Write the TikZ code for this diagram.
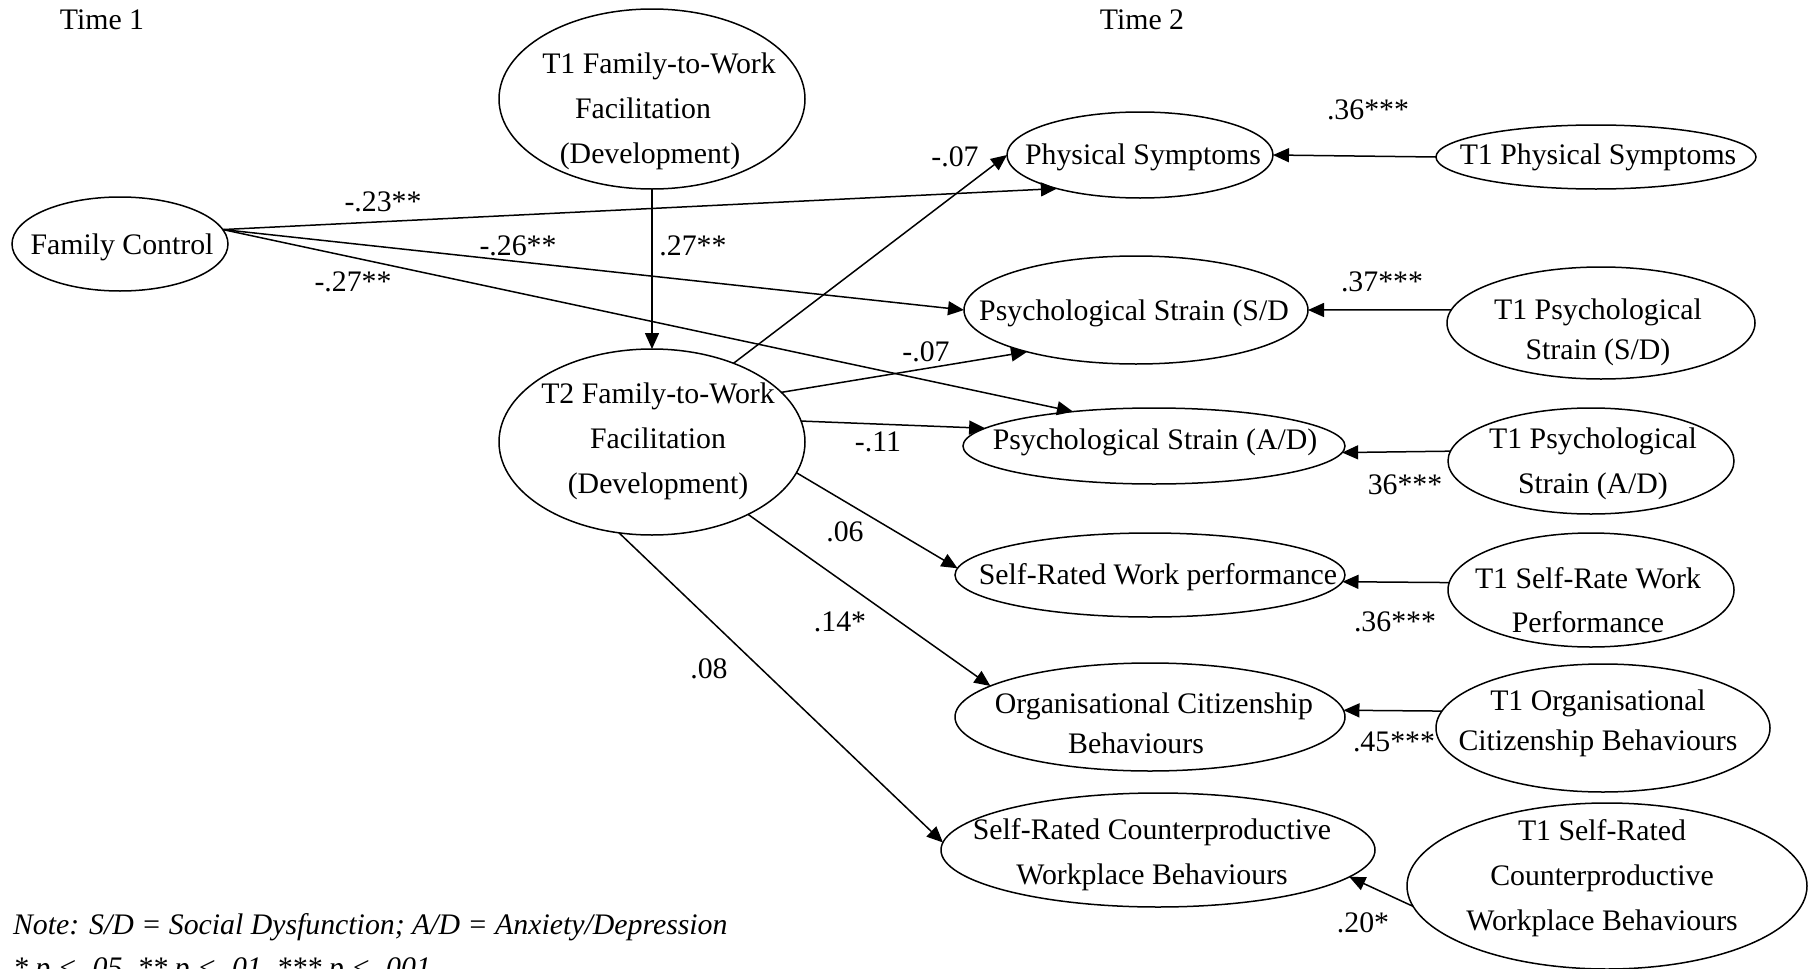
\documentclass[tikz,border=0pt]{standalone}
\usepackage{fontspec}
\setmainfont{Liberation Serif}
\usetikzlibrary{arrows.meta,shapes.geometric}
\begin{document}
\begin{tikzpicture}[x=1pt,y=-1pt,
  every node/.style={inner sep=0pt, outer sep=0pt},
  lat/.style={draw, ellipse, line width=1.5pt},
  lbl/.style={font=\fontsize{29.8}{44}\selectfont, align=center},
  lbltight/.style={font=\fontsize{29.8}{40}\selectfont, align=center},
  lblwide/.style={font=\fontsize{29.8}{45}\selectfont, align=center},
  coef/.style={font=\fontsize{29.8}{36}\selectfont},
  conn/.style={line width=1.5pt, -{Triangle[length=16pt,width=14pt]}}]
\useasboundingbox (0,0) rectangle (1816,969);

% headings
\node[coef] (time1) at (102,20) {Time 1};
\node[coef] (time2) at (1142,20) {Time 2};

% Time 1 predictors
\node[lat, minimum width=216, minimum height=94] (fc) at (120,244) {};
\node[lbl] (fc-t) at (122,247) {Family Control};

\node[lat, minimum width=306, minimum height=180] (t1ftw) at (652,99) {};
\node[lblwide] (t1ftw-t) at (650,111) {\kern18pt T1 Family-to-Work\\Facilitation\kern14pt\\(Development)};

\node[lat, minimum width=306, minimum height=186] (t2ftw) at (652,442) {};
\node[lblwide] (t2ftw-t) at (658,441) {T2 Family-to-Work\\Facilitation\\(Development)};

% Time 2 outcomes
\node[lat, minimum width=266, minimum height=86] (phys) at (1140,155) {};
\node[lbl] (phys-t) at (1143,157) {Physical Symptoms};

\node[lat, minimum width=344, minimum height=108] (pssd) at (1136,310) {};
\node[lbl] (pssd-t) at (1134,313) {Psychological Strain (S/D};

\node[lat, minimum width=382, minimum height=76] (psad) at (1154,446) {};
\node[lbl] (psad-t) at (1155,442) {Psychological Strain (A/D)};

\node[lat, minimum width=390, minimum height=84] (srwp) at (1150,575) {};
\node[lbl] (srwp-t) at (1158,577) {Self-Rated Work performance};

\node[lat, minimum width=390, minimum height=108] (ocb) at (1150,717) {};
\node[lbltight] (ocb-t) at (1154,723) {Organisational Citizenship\\Behaviours\kern36pt};

\node[lat, minimum width=434, minimum height=114] (srcwb) at (1158,850) {};
\node[lblwide] (srcwb-t) at (1152,855) {Self-Rated Counterproductive\\Workplace Behaviours};

% Time 1 controls
\node[lat, minimum width=320, minimum height=64] (t1phys) at (1596,157) {};
\node[lbl] (t1phys-t) at (1598,157) {T1 Physical Symptoms};

\node[lat, minimum width=308, minimum height=112] (t1pssd) at (1601,323) {};
\node[lbltight] (t1pssd-t) at (1598,332) {T1 Psychological\\Strain (S/D)};

\node[lat, minimum width=286, minimum height=106] (t1psad) at (1591,461) {};
\node[lblwide] (t1psad-t) at (1593,464) {T1 Psychological\\Strain (A/D)};

\node[lat, minimum width=286, minimum height=114] (t1srwp) at (1591,590) {};
\node[lbl] (t1srwp-t) at (1588,600) {T1 Self-Rate Work\\Performance};

\node[lat, minimum width=334, minimum height=128] (t1ocb) at (1603,728) {};
\node[lbltight] (t1ocb-t) at (1598,723) {T1 Organisational\\Citizenship Behaviours};

\node[lat, minimum width=400, minimum height=166] (t1srcwb) at (1607,886) {};
\node[lblwide] (t1srcwb-t) at (1602,878) {T1 Self-Rated\\Counterproductive\\Workplace Behaviours};

% paths from Family Control
\draw[conn] (fc.8) -- (phys.202);
\draw[conn] (fc.8) -- (pssd.west);
\draw[conn] (fc.8) -- (psad.157);
% stability of facilitation
\draw[conn] (t1ftw.south) -- (t2ftw.north);
% paths from T2 facilitation
\draw[conn] (t2ftw.44) -- (phys.west);
\draw[conn] (t2ftw.21) -- (pssd.201);
\draw[conn] (t2ftw.8) -- (psad.174);
\draw[conn] (t2ftw.-12) -- (srwp.178);
\draw[conn] (t2ftw.-37) -- (ocb.169);
\draw[conn] (t2ftw.-110) -- (srcwb.178);
% autoregressive paths
\draw[conn] (t1phys.west) -- (phys.east);
\draw[conn] (t1pssd.175) -- (pssd.east);
\draw[conn] (t1psad.176) -- (psad.358);
\draw[conn] (t1srwp.177) -- (srwp.358);
\draw[conn] (t1ocb.174) -- (ocb.2);
\draw[conn] (t1srcwb.186) -- (srcwb.352);

% path coefficients
\node[coef] (c1) at (383,202) {-.23**};
\node[coef] (c2) at (518,246) {-.26**};
\node[coef] (c3) at (353,282) {-.27**};
\node[coef] (c4) at (693,246) {.27**};
\node[coef] (c5) at (955,157) {-.07};
\node[coef] (c6) at (926,352) {-.07};
\node[coef] (c7) at (878,442) {-.11};
\node[coef] (c8) at (845,532) {.06};
\node[coef] (c9) at (840,622) {.14*};
\node[coef] (c10) at (709,669) {.08};
\node[coef] (c11) at (1368,110) {.36***};
\node[coef] (c12) at (1382,282) {.37***};
\node[coef] (c13) at (1405,485) {36***};
\node[coef] (c14) at (1395,622) {.36***};
\node[coef] (c15) at (1394,742) {.45***};
\node[coef] (c16) at (1363,923) {.20*};

% notes
\node[coef, anchor=base west, font=\fontsize{29.8}{36}\selectfont\itshape] (note) at (13,934) {Note: S/D = Social Dysfunction; A/D = Anxiety/Depression};
\node[coef, anchor=base west, font=\fontsize{29.8}{36}\selectfont\itshape] (sig) at (13,977) {* p {<} .05, ** p {<} .01, *** p {<} .001};
\end{tikzpicture}
\end{document}
